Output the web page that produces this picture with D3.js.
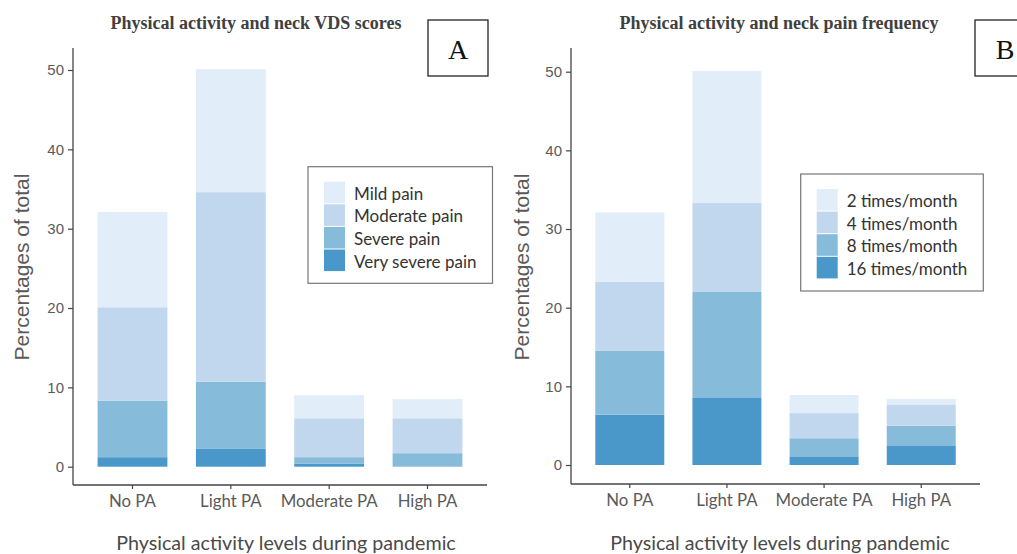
<!DOCTYPE html>
<html>
<head>
<meta charset="utf-8">
<script src="https://cdn.jsdelivr.net/npm/d3@7"></script>
<style>
  html, body { margin: 0; padding: 0; background: #fff; }
  svg { display: block; }
</style>
</head>
<body>
<svg id="chart" width="1017" height="554"></svg>
<script>
// ---- Data ----
const categories = ["No PA", "Light PA", "Moderate PA", "High PA"];

// Panel A: neck VDS scores (stacked bottom -> top: very severe, severe, moderate, mild)
const seriesA = ["Mild pain", "Moderate pain", "Severe pain", "Very severe pain"];
const mildPain       = [12.0, 15.5, 2.9, 2.4];
const moderatePain   = [11.8, 23.9, 4.9, 4.4];
const severePain     = [7.1, 8.4, 0.8, 1.7];
const verySeverePain = [1.2, 2.3, 0.4, 0.0];

// Panel B: neck pain frequency (stacked bottom -> top: 16, 8, 4, 2 times/month)
const seriesB = ["2 times/month", "4 times/month", "8 times/month", "16 times/month"];
const times2  = [8.8, 16.8, 2.3, 0.7];
const times4  = [8.8, 11.3, 3.2, 2.7];
const times8  = [8.1, 13.4, 2.3, 2.5];
const times16 = [6.4, 8.6, 1.1, 2.5];

const yTicks = [0, 10, 20, 30, 40, 50];

const colors = ["#e1edf8", "#c1d7ed", "#86bbda", "#4a97c9"]; // lightest (top) -> darkest (bottom)

const svg = d3.select("#chart");

function drawPanel(opt) {
  const g = svg.append("g");
  const x = d3.scaleBand().domain(categories).range([opt.x0, opt.x1]).paddingInner(0.29).paddingOuter(0.25);
  const y = d3.scaleLinear().domain([0, 50]).range([opt.y0, opt.y50]);

  const keys = opt.series.slice().reverse(); // bottom first
  const valuesByKey = {};
  opt.series.forEach((s, i) => valuesByKey[s] = opt.values[i]);
  const rows = categories.map((c, ci) => {
    const r = { cat: c };
    keys.forEach(k => r[k] = valuesByKey[k][ci]);
    return r;
  });
  const stack = d3.stack().keys(keys)(rows);
  const color = d3.scaleOrdinal().domain(opt.series).range(colors);

  g.selectAll("g.layer").data(stack).join("g")
    .attr("fill", d => color(d.key))
    .selectAll("rect").data(d => d).join("rect")
    .attr("x", d => x(d.data.cat))
    .attr("width", x.bandwidth())
    .attr("y", d => y(d[1]))
    .attr("height", d => Math.max(0, y(d[0]) - y(d[1])));

  // y axis
  const yAxis = g.append("g").attr("transform", `translate(${opt.x0},0)`)
    .call(d3.axisLeft(y).tickValues(yTicks).tickSize(5).tickPadding(4));
  yAxis.select(".domain").remove();
  yAxis.selectAll("line").attr("stroke", "#444").attr("stroke-width", 1.2);
  yAxis.selectAll("text").attr("fill", "#5a5a5a").attr("font-family", "Liberation Sans, Arial, sans-serif").attr("font-size", 15);
  g.append("line").attr("x1", opt.x0).attr("x2", opt.x0).attr("y1", opt.yTop).attr("y2", opt.yAxisY)
    .attr("stroke", "#444").attr("stroke-width", 1.3);

  // x axis
  const xAxis = g.append("g").attr("transform", `translate(0,${opt.yAxisY})`)
    .call(d3.axisBottom(x).tickSize(4).tickPadding(6));
  xAxis.select(".domain").remove();
  xAxis.selectAll("line").attr("stroke", "#444").attr("stroke-width", 1.2);
  xAxis.selectAll("text").attr("fill", "#5a5a5a").attr("font-family", "Lato, sans-serif").attr("font-size", 16.8);
  g.append("line").attr("x1", opt.x0).attr("x2", opt.x1).attr("y1", opt.yAxisY).attr("y2", opt.yAxisY)
    .attr("stroke", "#444").attr("stroke-width", 1.3);

  // axis titles
  g.append("text").attr("transform", `translate(${opt.yLabelX},267) rotate(-90)`)
    .attr("text-anchor", "middle").attr("dominant-baseline", "central")
    .attr("fill", "#5a5a5a").attr("font-family", "Liberation Sans, Arial, sans-serif").attr("font-size", 21)
    .text("Percentages of total");
  g.append("text").attr("x", opt.xTitleX).attr("y", 542)
    .attr("text-anchor", "middle").attr("dominant-baseline", "central")
    .attr("fill", "#4a4a4a").attr("font-family", "Lato, sans-serif").attr("font-size", 19.7)
    .text("Physical activity levels during pandemic");

  // chart title
  g.append("text").attr("x", opt.titleX).attr("y", 23)
    .attr("text-anchor", "middle").attr("dominant-baseline", "central")
    .attr("fill", "#404040").attr("font-family", "Liberation Serif, serif").attr("font-weight", "bold").attr("font-size", 18)
    .text(opt.title);

  // panel letter box
  g.append("rect").attr("x", opt.boxX).attr("y", 20).attr("width", 60).attr("height", 56)
    .attr("fill", "#fff").attr("stroke", "#111").attr("stroke-width", 1.2);
  g.append("text").attr("x", opt.boxX + 30).attr("y", 49).attr("text-anchor", "middle").attr("dominant-baseline", "central")
    .attr("fill", "#111").attr("font-family", "Liberation Serif, serif").attr("font-size", 28)
    .text(opt.letter);

  // legend
  const lg = g.append("g");
  lg.append("rect").attr("x", opt.legX).attr("y", opt.legY).attr("width", opt.legW).attr("height", opt.legH)
    .attr("fill", "#fff").attr("stroke", "#777").attr("stroke-width", 1.2);
  opt.series.forEach((s, i) => {
    const sy = opt.legY + 15 + i * 22.6;
    lg.append("rect").attr("x", opt.legX + 16).attr("y", sy).attr("width", 21).attr("height", 21.6)
      .attr("fill", color(s));
    lg.append("text").attr("x", opt.legX + 46).attr("y", sy + 11.5).attr("dominant-baseline", "central")
      .attr("fill", "#333").attr("font-family", "Lato, sans-serif").attr("font-size", 17)
      .text(s);
  });
}

drawPanel({
  series: seriesA, values: [mildPain, moderatePain, severePain, verySeverePain],
  x0: 73, x1: 487, y0: 466.7, y50: 70, yTop: 48, yAxisY: 485,
  yLabelX: 21, xTitleX: 286, titleX: 256, title: "Physical activity and neck VDS scores",
  boxX: 428, letter: "A", legX: 308, legY: 166.7, legW: 184.5, legH: 116.6
});
drawPanel({
  series: seriesB, values: [times2, times4, times8, times16],
  x0: 571, x1: 980, y0: 465, y50: 71.7, yTop: 48, yAxisY: 484,
  yLabelX: 521, xTitleX: 780, titleX: 779, title: "Physical activity and neck pain frequency",
  boxX: 975, letter: "B", legX: 800.7, legY: 174, legW: 182.6, legH: 117
});
</script>
</body>
</html>
